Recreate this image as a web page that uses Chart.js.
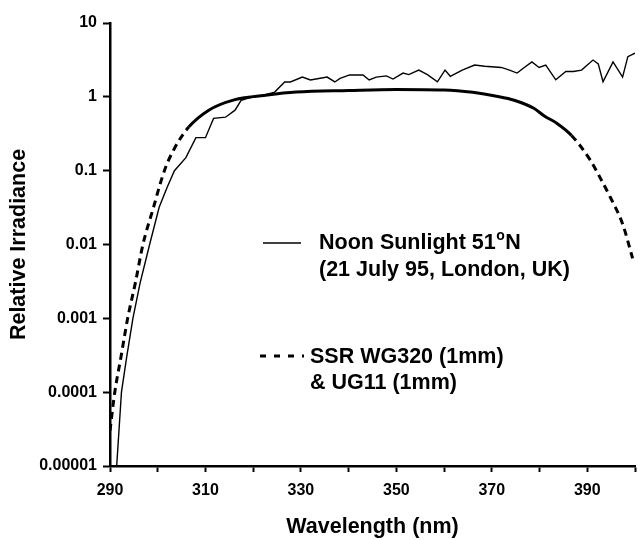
<!DOCTYPE html>
<html>
<head>
<meta charset="utf-8">
<script src="https://cdn.jsdelivr.net/npm/chart.js@4/dist/chart.umd.min.js"></script>
<style>
  html, body { margin: 0; padding: 0; background: #fff; }
  #wrap { width: 644px; height: 540px; position: relative; }
</style>
</head>
<body>
<div id="wrap"><canvas id="c"></canvas></div>
<script>
// ---- data ----
const sunWavelength = [291.4, 292.4, 293.5, 294.8, 296.3, 298.3, 300.3, 302, 303.5, 305.9, 308, 310, 311.7, 314.2, 316.2, 317.5, 319, 322.4, 324.5, 326.6, 327.8, 330.3, 332, 335.5, 337.1, 338.2, 340.2, 343, 344.3, 345.8, 347.9, 349.3, 351.4, 352.6, 354.7, 356.5, 358.6, 360.2, 361.3, 363.8, 366.4, 368.5, 372, 373.7, 375.3, 376.8, 378.4, 379.9, 381.3, 383.4, 385.5, 387.1, 388.8, 391.2, 392.3, 393.3, 395.4, 397.4, 398.5, 400];
const sunIrradiance = [0.00001, 0.0001, 0.0003, 0.001, 0.003, 0.01, 0.032, 0.06, 0.1, 0.15, 0.28, 0.28, 0.51, 0.53, 0.66, 0.9, 0.96, 1.06, 1.16, 1.59, 1.59, 1.85, 1.69, 1.85, 1.59, 1.78, 1.98, 1.98, 1.69, 1.85, 1.92, 1.74, 2.1, 2.0, 2.3, 2.0, 1.6, 2.3, 1.9, 2.3, 2.7, 2.6, 2.5, 2.3, 2.1, 2.5, 2.97, 2.5, 2.7, 1.7, 2.2, 2.2, 2.3, 3.15, 2.8, 1.6, 2.97, 1.85, 3.5, 3.9];

const filterWavelength = [290, 291, 292.3, 293.7, 295.3, 296.9, 299, 301.4, 303.5, 306.5, 310.7, 316, 323, 329, 340, 350, 360, 366, 371, 374.7, 378.8, 381, 383.6, 386.7, 390.6, 392.7, 394.8, 397.4, 399.5];
const filterIrradiance = [0.00003, 0.0001, 0.0003, 0.001, 0.003, 0.01, 0.03, 0.1, 0.2, 0.39, 0.66, 0.91, 1.06, 1.16, 1.22, 1.26, 1.24, 1.15, 1.02, 0.9, 0.7, 0.55, 0.44, 0.3, 0.14, 0.08, 0.044, 0.019, 0.0065];

const xLabelValues = [290, 310, 330, 350, 370, 390];
const yTickValues = [0.00001, 0.0001, 0.001, 0.01, 0.1, 1, 10];
const yTickLabels = ['0.00001', '0.0001', '0.001', '0.01', '0.1', '1', '10'];

const xTitle = 'Wavelength (nm)';
const yTitle = 'Relative Irradiance';
const sunLegend = ['Noon Sunlight 51', 'o', 'N', '(21 July 95, London, UK)'];
const filterLegend = ['SSR WG320 (1mm)', '& UG11 (1mm)'];

// ---- chart ----
const FONT = '"Liberation Sans", Arial, sans-serif';

const legendPlugin = {
  id: 'inlineLegend',
  afterDraw(chart) {
    const ctx = chart.ctx;
    ctx.save();
    ctx.fillStyle = '#000';
    ctx.strokeStyle = '#000';
    ctx.textBaseline = 'middle';
    ctx.textAlign = 'left';
    // solid sample
    ctx.lineWidth = 1.3;
    ctx.beginPath(); ctx.moveTo(263, 243); ctx.lineTo(301, 243); ctx.stroke();
    ctx.font = 'bold 21.5px ' + FONT;
    let x = 319;
    ctx.fillText(sunLegend[0], x, 243);
    x += ctx.measureText(sunLegend[0]).width;
    ctx.font = 'bold 14px ' + FONT;
    ctx.fillText(sunLegend[1], x + 0.5, 236);
    x += ctx.measureText(sunLegend[1]).width + 1;
    ctx.font = 'bold 21.5px ' + FONT;
    ctx.fillText(sunLegend[2], x, 243);
    ctx.fillText(sunLegend[3], 319, 270);
    // dashed sample
    ctx.lineWidth = 3;
    ctx.setLineDash([6, 8]);
    ctx.beginPath(); ctx.moveTo(260, 356); ctx.lineTo(304, 356); ctx.stroke();
    ctx.setLineDash([]);
    ctx.fillText(filterLegend[0], 310, 357);
    ctx.fillText(filterLegend[1], 310, 383);
    ctx.restore();
  }
};

new Chart(document.getElementById('c'), {
  type: 'line',
  data: {
    datasets: [
      {
        label: 'Noon Sunlight 51°N',
        data: sunWavelength.map((w, i) => ({ x: w, y: sunIrradiance[i] })),
        borderColor: '#000',
        borderWidth: 1.4,
        pointRadius: 0,
        tension: 0,
        fill: false
      },
      {
        label: 'SSR WG320 (1mm) & UG11 (1mm)',
        data: filterWavelength.map((w, i) => ({ x: w, y: filterIrradiance[i] })),
        borderColor: '#000',
        borderWidth: 3,
        pointRadius: 0,
        cubicInterpolationMode: 'monotone',
        fill: false,
        segment: {
          borderDash: ctx => (ctx.p1.parsed.x <= 306.5 || ctx.p0.parsed.x >= 386.7) ? [7, 5] : undefined
        }
      }
    ]
  },
  options: {
    responsive: true,
    maintainAspectRatio: false,
    animation: false,
    layout: { padding: { left: 6, top: 23, right: 1, bottom: 0 } },
    plugins: {
      legend: { display: false },
      tooltip: { enabled: false }
    },
    scales: {
      x: {
        type: 'linear',
        min: 290,
        max: 400,
        afterFit(scale) { scale.height = 74; },
        ticks: {
          stepSize: 10,
          autoSkip: false,
          maxRotation: 0,
          padding: 9,
          color: '#000',
          font: { family: FONT, size: 16, weight: 'bold' },
          callback: v => xLabelValues.includes(v) ? String(v) : ''
        },
        grid: { drawOnChartArea: false, drawTicks: true, tickLength: 6, tickWidth: 2, tickColor: '#000' },
        border: { display: true, color: '#000', width: 2.5 },
        title: { display: true, text: xTitle, color: '#000', padding: { top: 4, bottom: 0 }, font: { family: FONT, size: 21.5, weight: 'bold' } }
      },
      y: {
        type: 'logarithmic',
        min: 0.00001,
        max: 10,
        afterFit(scale) { scale.width = 104; },
        afterBuildTicks(scale) { scale.ticks = yTickValues.map(v => ({ value: v })); },
        ticks: {
          autoSkip: false,
          padding: 6,
          color: '#000',
          font: { family: FONT, size: 16, weight: 'bold' },
          callback: (v, i) => yTickLabels[i]
        },
        grid: { drawOnChartArea: false, drawTicks: true, tickLength: 7, tickWidth: 2, tickColor: '#000' },
        border: { display: true, color: '#000', width: 2.5 },
        title: { display: true, text: yTitle, color: '#000', padding: { top: 0, bottom: 4 }, font: { family: FONT, size: 21.5, weight: 'bold' } }
      }
    }
  },
  plugins: [legendPlugin]
});
</script>
</body>
</html>
